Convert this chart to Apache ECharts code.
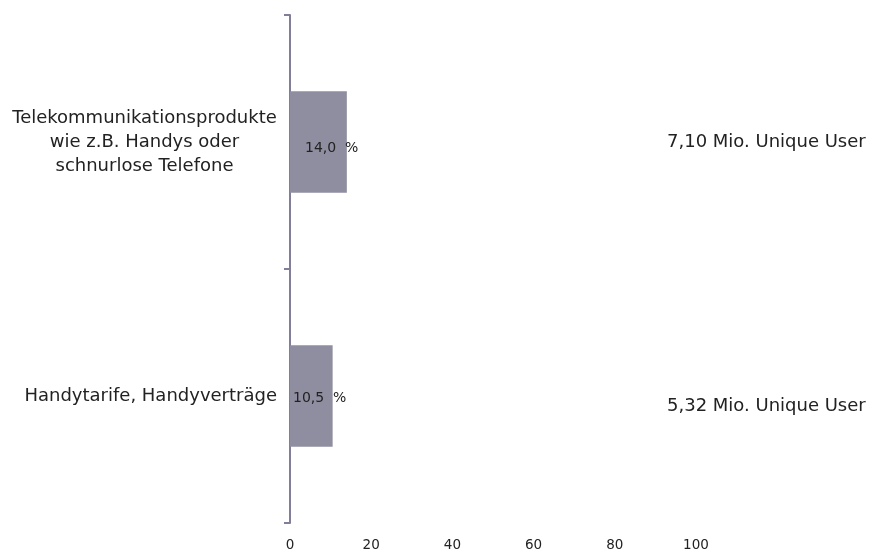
<!DOCTYPE html>
<html>
<head>
<meta charset="utf-8">
<title>Unique User</title>
<script src="https://cdn.jsdelivr.net/npm/echarts@6/dist/echarts.min.js"></script>
<style>
  html, body { margin: 0; padding: 0; background: #ffffff; }
  #chart { width: 874px; height: 553px; }
</style>
</head>
<body>
<div id="chart"></div>
<script>
// Product groups (top to bottom)
const categories = [
  'Telekommunikationsprodukte\nwie z.B. Handys oder\nschnurlose Telefone',
  'Handytarife, Handyverträge'
];
// Share of users in percent
const shares = [14.0, 10.5];
// Reach in unique users, shown on the right
const userReach = ['7,10 Mio. Unique User', '5,32 Mio. Unique User'];
// Value axis ticks
const xTicks = [0, 20, 40, 60, 80, 100];

const FONT = '"DejaVu Sans", Verdana, sans-serif';
const BAR_COLOR = '#8f8ea0';
const AXIS_COLOR = '#807e98';
const TEXT = '#222222';
// small horizontal/vertical nudges of the value labels inside the bars
const labelNudge = [[10, 6], [-2, 2]];

const chart = echarts.init(document.getElementById('chart'), null, { renderer: 'canvas' });

const fmtPct = v => v.toFixed(1).replace('.', ',') + '  %';

chart.setOption({
  animation: false,
  backgroundColor: '#ffffff',
  grid: { left: 290, right: 178, top: 15, bottom: 30, containLabel: false },
  xAxis: {
    type: 'value',
    min: xTicks[0],
    max: xTicks[xTicks.length - 1],
    interval: xTicks[1] - xTicks[0],
    axisLine: { show: false },
    axisTick: { show: false },
    splitLine: { show: false },
    axisLabel: { color: TEXT, fontFamily: FONT, fontSize: 13.5, margin: 15 }
  },
  yAxis: [
    {
      type: 'category',
      inverse: true,
      data: categories,
      axisLine: { show: true, lineStyle: { color: AXIS_COLOR, width: 2 } },
      axisTick: { show: true, length: 6, lineStyle: { color: AXIS_COLOR, width: 2 } },
      axisLabel: {
        margin: 13,
        color: TEXT,
        fontFamily: FONT,
        fontSize: 18,
        align: 'right',
        formatter: function (v) {
          const lines = v.split('\n');
          if (lines.length === 1) return '{s|' + v + '}';
          return lines.map(l => '{c|' + l + '}').join('\n');
        },
        rich: {
          c: { width: 265, align: 'center', lineHeight: 24, fontFamily: FONT, fontSize: 18, color: TEXT },
          s: { fontFamily: FONT, fontSize: 18, color: TEXT }
        }
      }
    },
    {
      type: 'category',
      inverse: true,
      position: 'right',
      offset: -29,
      data: userReach,
      axisLine: { show: false },
      axisTick: { show: false },
      axisLabel: {
        margin: 0,
        align: 'left',
        color: TEXT,
        fontFamily: FONT,
        fontSize: 18,
        formatter: (v, i) => (i === 0 ? '{a|' + v + '}' : '{b|' + v + '}'),
        rich: {
          a: { fontFamily: FONT, fontSize: 18, color: TEXT },
          b: { fontFamily: FONT, fontSize: 18, color: TEXT, padding: [20, 0, 0, 0] }
        }
      }
    }
  ],
  series: [
    {
      type: 'bar',
      yAxisIndex: 0,
      barWidth: '40%',
      itemStyle: { color: BAR_COLOR },
      data: shares.map((v, i) => ({
        value: v,
        label: { offset: labelNudge[i] }
      })),
      label: {
        show: true,
        position: 'insideLeft',
        distance: 5,
        color: TEXT,
        fontFamily: FONT,
        fontSize: 14,
        formatter: p => fmtPct(p.value)
      }
    }
  ]
});
</script>
</body>
</html>
